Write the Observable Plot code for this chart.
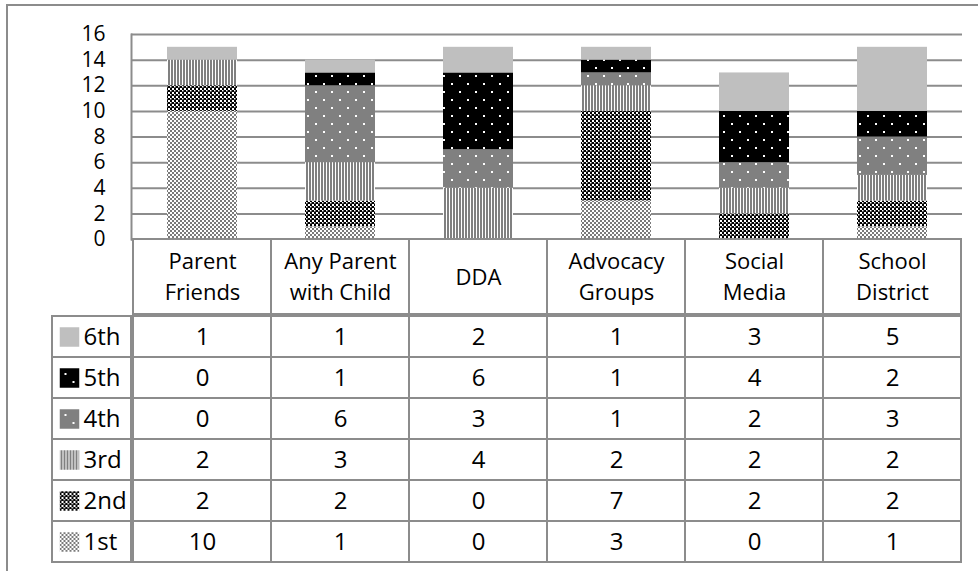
<!DOCTYPE html>
<html>
<head>
<meta charset="utf-8">
<script src="https://cdn.jsdelivr.net/npm/d3@7"></script>
<script src="https://cdn.jsdelivr.net/npm/@observablehq/plot@0.6"></script>
<style>
  html, body { margin: 0; padding: 0; background: #fff; overflow: hidden; }
  #wrap { position: relative; width: 978px; height: 571px; overflow: hidden; background: #fff; }
  #outer { position: absolute; left: 6px; top: 4px; width: 1200px; height: 800px; border-left: 2px solid #8c8c8c; border-top: 2px solid #8c8c8c; }
  #wrap svg { position: absolute; }
</style>
</head>
<body>
<div id="wrap"><div id="outer"></div></div>
<script>
// ---- data ----
const categories = ["Parent\nFriends", "Any Parent\nwith Child", "DDA", "Advocacy\nGroups", "Social\nMedia", "School\nDistrict"];
const series = ["1st", "2nd", "3rd", "4th", "5th", "6th"];
const rowOrder = ["6th", "5th", "4th", "3rd", "2nd", "1st"];
const v1st = [10, 1, 0, 3, 0, 1];
const v2nd = [2, 2, 0, 7, 2, 2];
const v3rd = [2, 3, 4, 2, 2, 2];
const v4th = [0, 6, 3, 1, 2, 3];
const v5th = [0, 1, 6, 1, 4, 2];
const v6th = [1, 1, 2, 1, 3, 5];
const yTicks = [0, 2, 4, 6, 8, 10, 12, 14, 16];
const patternUrls = ["url(#p1)", "url(#p2)", "url(#p3)", "url(#p4)", "url(#p5)", "url(#p6)"];

const seriesValues = [v1st, v2nd, v3rd, v4th, v5th, v6th];
const rows = [];
series.forEach((s, si) => categories.forEach((c, ci) => rows.push({series: s, category: c, value: seriesValues[si][ci]})));

const W = 978, H = 571;
const gridColor = "#8c8c8c";
const font = {fontFamily: "'Open Sans', sans-serif", fontSize: "24px", color: "#000", background: "transparent", overflow: "visible"};
const xScale = {domain: categories, padding: 0, axis: null};
const colorScale = {domain: series, range: patternUrls};
const wrap = document.getElementById("wrap");

// ---- bar chart ----
const bars = Plot.plot({
  width: W, height: 241,
  marginLeft: 131, marginRight: 16, marginTop: 34, marginBottom: 2,
  style: {...font, fontSize: "21px"},
  x: xScale,
  y: {domain: [0, 16], ticks: yTicks, tickSize: 0, tickPadding: 26, label: null},
  color: colorScale,
  marks: [
    Plot.ruleY(yTicks, {stroke: gridColor, strokeWidth: 2}),
    Plot.frame({anchor: "left", stroke: gridColor, strokeWidth: 2}),
    Plot.barY(rows, {x: "category", y: "value", fill: "series", insetLeft: 34, insetRight: 34})
  ]
});
bars.style.left = "0px"; bars.style.top = "0px";

// ---- pattern defs ----
const defs = `
<defs>
  <pattern id="p1" patternUnits="userSpaceOnUse" width="4" height="4">
    <rect width="4" height="4" fill="#fff"/>
    <rect x="0" y="0" width="2" height="2" fill="#7a7a7a"/>
    <rect x="2" y="2" width="2" height="2" fill="#7a7a7a"/>
  </pattern>
  <pattern id="p2" patternUnits="userSpaceOnUse" width="4" height="4">
    <rect width="4" height="4" fill="#000"/>
    <rect x="0" y="0" width="2" height="2" fill="#fff"/>
    <rect x="2" y="2" width="1.5" height="1.5" fill="#fff"/>
  </pattern>
  <pattern id="p3" patternUnits="userSpaceOnUse" width="3" height="3">
    <rect width="3" height="3" fill="#fff"/>
    <rect x="0" y="0" width="2" height="3" fill="#808080"/>
  </pattern>
  <pattern id="p4" patternUnits="userSpaceOnUse" width="16" height="16">
    <rect width="16" height="16" fill="#808080"/>
    <rect x="3" y="3" width="2" height="2" fill="#fff"/>
    <rect x="11" y="11" width="2" height="2" fill="#fff"/>
  </pattern>
  <pattern id="p5" patternUnits="userSpaceOnUse" width="16" height="16">
    <rect width="16" height="16" fill="#000"/>
    <rect x="3" y="3" width="2" height="2" fill="#fff"/>
    <rect x="11" y="11" width="2" height="2" fill="#fff"/>
  </pattern>
  <pattern id="p6" patternUnits="userSpaceOnUse" width="4" height="4">
    <rect width="4" height="4" fill="#bfbfbf"/>
  </pattern>
</defs>`;
bars.insertAdjacentHTML("afterbegin", defs);
wrap.appendChild(bars);

// ---- header row (category labels) ----
const header = Plot.plot({
  width: W, height: 79,
  marginLeft: 131, marginRight: 16, marginTop: 2, marginBottom: 2,
  style: {...font, fontSize: "22px"},
  x: xScale,
  marks: [
    Plot.cell(categories, {x: d => d, fill: "white", stroke: gridColor, strokeWidth: 2}),
    Plot.text(categories, {x: d => d, text: d => d, lineHeight: 1.4, dy: -2, fill: "#000"})
  ]
});
header.style.left = "0px"; header.style.top = "237px";
wrap.appendChild(header);

// ---- table body ----
const table = Plot.plot({
  width: W, height: 259,
  marginLeft: 131, marginRight: 16, marginTop: 2, marginBottom: 8,
  style: font,
  x: xScale,
  y: {domain: rowOrder, padding: 0, axis: null},
  marks: [
    Plot.cell(rows, {x: "category", y: "series", fill: "white", stroke: gridColor, strokeWidth: 2}),
    Plot.text(rows, {x: "category", y: "series", text: d => String(d.value), fill: "#000"})
  ]
});
table.style.left = "0px"; table.style.top = "312px";
wrap.appendChild(table);

// ---- legend column ----
const legend = Plot.plot({
  width: 133, height: 259,
  marginLeft: 52, marginRight: 2, marginTop: 2, marginBottom: 8,
  style: font,
  y: {domain: rowOrder, padding: 0, axis: null},
  color: colorScale,
  marks: [
    Plot.cell(rowOrder, {y: d => d, fill: "white", stroke: gridColor, strokeWidth: 2}),
    Plot.dot(rowOrder, {y: d => d, fill: d => d, symbol: "square", r: 11, frameAnchor: "left", dx: 17}),
    Plot.text(rowOrder, {y: d => d, text: d => d, frameAnchor: "left", dx: 31, textAnchor: "start", fill: "#000"})
  ]
});
legend.style.left = "0px"; legend.style.top = "312px";
wrap.appendChild(legend);
</script>
</body>
</html>
